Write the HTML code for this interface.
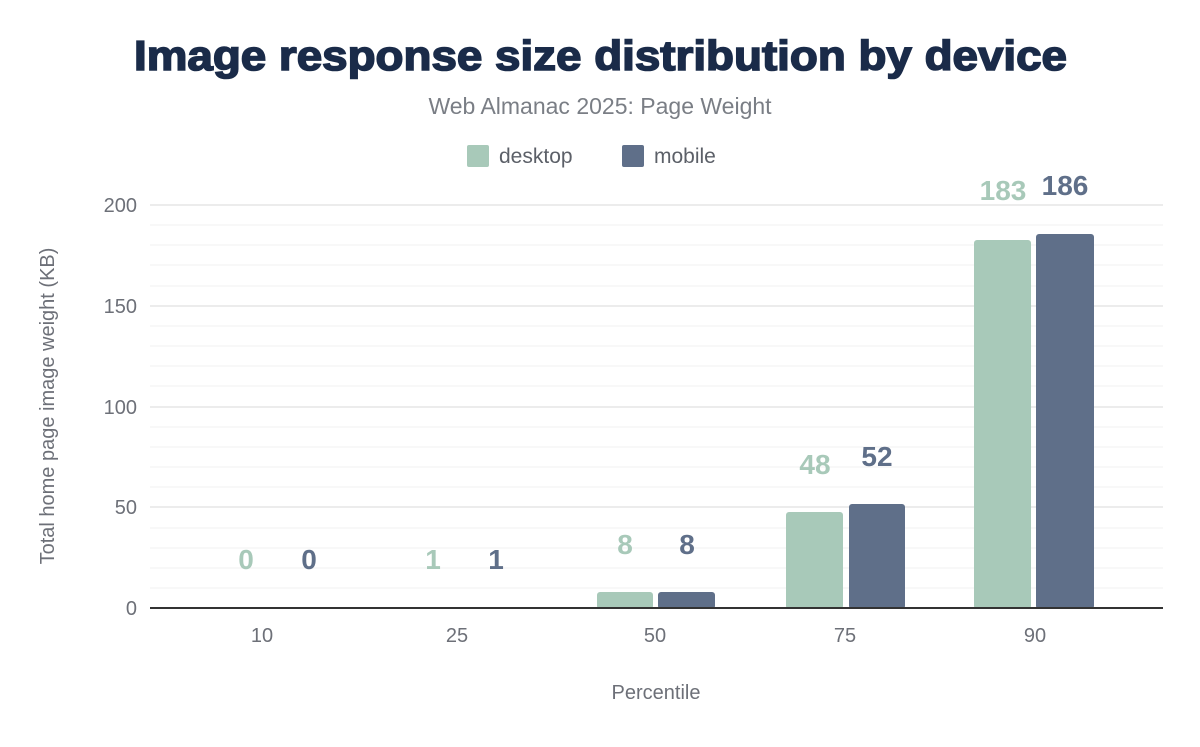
<!DOCTYPE html>
<html><head><meta charset="utf-8"><style>
body{margin:0;background:#fff;}
svg text{font-family:"Liberation Sans",sans-serif;}
</style></head><body>
<svg width="1200" height="742" viewBox="0 0 1200 742" xmlns="http://www.w3.org/2000/svg">
<rect width="1200" height="742" fill="#fff"/>
<text x="134" y="70" textLength="933" lengthAdjust="spacingAndGlyphs" font-size="42" font-weight="900" fill="#1a2b49" stroke="#1a2b49" stroke-width="1.6">Image response size distribution by device</text>
<text x="600" y="114" text-anchor="middle" font-size="23" fill="#7a7e85">Web Almanac 2025: Page Weight</text>
<rect x="467" y="145" width="22" height="22" rx="2" fill="#a8c9b9"/>
<text x="499" y="163" font-size="21" fill="#5c6068">desktop</text>
<rect x="622" y="145" width="22" height="22" rx="2" fill="#5f6f89"/>
<text x="654" y="163" font-size="21" fill="#5c6068">mobile</text>
<g stroke="#f0f0f0" stroke-width="1">
<line x1="150" x2="1163" y1="588" y2="588"/><line x1="150" x2="1163" y1="568" y2="568"/><line x1="150" x2="1163" y1="548" y2="548"/><line x1="150" x2="1163" y1="528" y2="528"/>
<line x1="150" x2="1163" y1="487" y2="487"/><line x1="150" x2="1163" y1="467" y2="467"/><line x1="150" x2="1163" y1="447" y2="447"/><line x1="150" x2="1163" y1="427" y2="427"/>
<line x1="150" x2="1163" y1="386" y2="386"/><line x1="150" x2="1163" y1="366" y2="366"/><line x1="150" x2="1163" y1="346" y2="346"/><line x1="150" x2="1163" y1="326" y2="326"/>
<line x1="150" x2="1163" y1="286" y2="286"/><line x1="150" x2="1163" y1="265" y2="265"/><line x1="150" x2="1163" y1="245" y2="245"/><line x1="150" x2="1163" y1="225" y2="225"/>
</g>
<g stroke="#e6e6e6" stroke-width="1.5">
<line x1="150" x2="1163" y1="507" y2="507"/><line x1="150" x2="1163" y1="407" y2="407"/><line x1="150" x2="1163" y1="306" y2="306"/><line x1="150" x2="1163" y1="205" y2="205"/>
</g>
<g font-size="20" fill="#6d7078" text-anchor="end">
<text x="137" y="615">0</text><text x="137" y="514">50</text><text x="137" y="414">100</text><text x="137" y="313">150</text><text x="137" y="212">200</text>
</g>
<text transform="translate(54,406) rotate(-90)" text-anchor="middle" font-size="20" fill="#6d7078">Total home page image weight (KB)</text>
<g>
<rect x="597" y="592" width="56" height="17" rx="3" fill="#a8c9b9"/>
<rect x="658" y="592" width="57" height="17" rx="3" fill="#5f6f89"/>
<rect x="786" y="512" width="57" height="97" rx="3" fill="#a8c9b9"/>
<rect x="849" y="504" width="56" height="105" rx="3" fill="#5f6f89"/>
<rect x="974" y="240" width="57" height="369" rx="3" fill="#a8c9b9"/>
<rect x="1036" y="234" width="58" height="375" rx="3" fill="#5f6f89"/>
</g>
<line x1="150" x2="1163" y1="608" y2="608" stroke="#333" stroke-width="2"/>
<g font-size="20" fill="#6d7078" text-anchor="middle">
<text x="262" y="642">10</text><text x="457" y="642">25</text><text x="655" y="642">50</text><text x="845" y="642">75</text><text x="1035" y="642">90</text>
</g>
<text x="656" y="699" text-anchor="middle" font-size="20" fill="#6d7078">Percentile</text>
<g font-size="28" font-weight="bold" text-anchor="middle">
<text x="246" y="569" fill="#a8c9b9">0</text><text x="309" y="569" fill="#5f6f89">0</text>
<text x="433" y="569" fill="#a8c9b9">1</text><text x="496" y="569" fill="#5f6f89">1</text>
<text x="625" y="554" fill="#a8c9b9">8</text><text x="687" y="554" fill="#5f6f89">8</text>
<text x="815" y="474" fill="#a8c9b9">48</text><text x="877" y="466" fill="#5f6f89">52</text>
<text x="1003" y="200" fill="#a8c9b9">183</text><text x="1065" y="195" fill="#5f6f89">186</text>
</g>
</svg>
</body></html>
